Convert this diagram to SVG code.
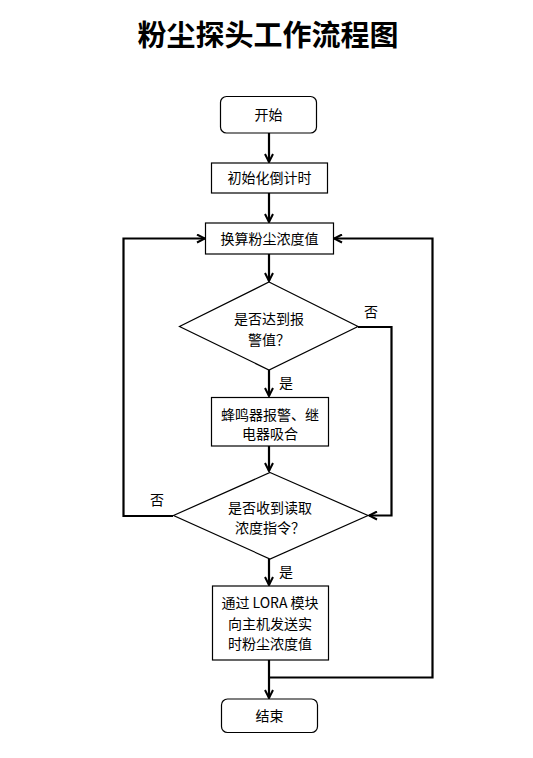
<svg xmlns="http://www.w3.org/2000/svg" width="533" height="758" viewBox="0 0 533 758">
<style>
.box{fill:#fff;stroke:#000;stroke-width:1.2}
.t{font-family:"Noto Sans CJK SC","Noto Sans",sans-serif;font-size:14px;fill:#000;text-anchor:middle}
.lbl{font-family:"Noto Sans CJK SC",sans-serif;font-size:14px;fill:#000}
.c{fill:none;stroke:#000;stroke-width:2.2}
.title{font-family:"Liberation Serif","Noto Sans CJK SC",serif;font-size:29px;font-weight:bold;fill:#000;text-anchor:middle}
</style>
<defs>
<marker id="ah" viewBox="0 0 10 10" refX="9" refY="5" markerWidth="10" markerHeight="10" markerUnits="userSpaceOnUse" orient="auto">
<polyline points="1,1 9,5 1,9" fill="none" stroke="#000" stroke-width="2"/>
</marker>
</defs>
<rect width="533" height="758" fill="#fff"/>
<text class="title" x="268" y="46">粉尘探头工作流程图</text>
<g id="connectors">
<line class="c" x1="269" y1="133" x2="269" y2="162" marker-end="url(#ah)"/>
<line class="c" x1="269" y1="193" x2="269" y2="222" marker-end="url(#ah)"/>
<line class="c" x1="269" y1="254" x2="269" y2="281" marker-end="url(#ah)"/>
<line class="c" x1="269" y1="370" x2="269" y2="396" marker-end="url(#ah)"/>
<line class="c" x1="269" y1="446" x2="269" y2="471" marker-end="url(#ah)"/>
<line class="c" x1="269" y1="559" x2="269" y2="585" marker-end="url(#ah)"/>
<line class="c" x1="269" y1="660" x2="269" y2="698" marker-end="url(#ah)"/>
<polyline class="c" points="358,327 391.5,327 391.5,515.5 369,515.5" marker-end="url(#ah)"/>
<polyline class="c" points="173,516 123.5,516 123.5,238.5 205,238.5" marker-end="url(#ah)"/>
<polyline class="c" points="269,677.5 432.5,677.5 432.5,238.5 334,238.5" marker-end="url(#ah)"/>
<text class="lbl" x="364" y="317">否</text>
<text class="lbl" x="279" y="388">是</text>
<text class="lbl" x="150" y="505">否</text>
<text class="lbl" x="279" y="577">是</text>
</g>
<g id="start"><rect class="box" x="220.5" y="96.5" width="96" height="36.5" rx="6"/><text class="t" x="268.5" y="119.5">开始</text></g>
<g id="init"><rect class="box" x="211.5" y="163" width="116" height="30"/><text class="t" x="269.5" y="183">初始化倒计时</text></g>
<g id="calc"><rect class="box" x="205.5" y="223" width="128" height="31"/><text class="t" x="269.5" y="243.5">换算粉尘浓度值</text></g>
<g id="d1"><polygon class="box" points="269,282 358,326.5 269,370 179.5,326.5"/><text class="t" x="269" y="324">是否达到报</text><text class="t" x="269" y="345">警值？</text></g>
<g id="alarm"><rect class="box" x="211.5" y="397.5" width="117" height="48.5"/><text class="t" x="270" y="420">蜂鸣器报警、继</text><text class="t" x="270" y="438.5">电器吸合</text></g>
<g id="d2"><polygon class="box" points="270,472.5 368,515.5 270,559 173.5,515.5"/><text class="t" x="270" y="513">是否收到读取</text><text class="t" x="270" y="533">浓度指令？</text></g>
<g id="send"><rect class="box" x="212.5" y="586" width="116" height="74"/><text class="t" x="270" y="608">通过 LORA 模块</text><text class="t" x="270" y="629">向主机发送实</text><text class="t" x="270" y="649">时粉尘浓度值</text></g>
<g id="end"><rect class="box" x="221.5" y="699" width="96" height="33.5" rx="6"/><text class="t" x="269.5" y="721">结束</text></g>
</svg>
